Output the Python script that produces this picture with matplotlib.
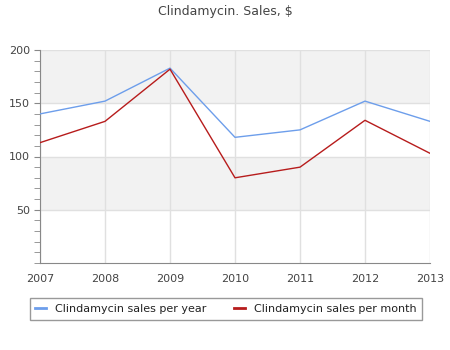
import numpy as np
import matplotlib.pyplot as plt
from matplotlib.ticker import MultipleLocator

years = [2007, 2008, 2009, 2010, 2011, 2012, 2013]
per_year = [140, 152, 183, 118, 125, 152, 133]
per_month = [113, 133, 182, 80, 90, 134, 103]

fig = plt.figure(figsize=(4.5, 3.5), dpi=100)
ax = fig.add_axes([40 / 450, 87 / 350, 390 / 450, 213 / 350])

# alternating background bands
for lo, hi in [(50, 100), (150, 200)]:
    ax.axhspan(lo, hi, color='#f2f2f2', zorder=0, lw=0)

ax.plot(years, per_year, color='#6d9eeb', lw=1, label='Clindamycin sales per year', zorder=3)
ax.plot(years, per_month, color='#b71c1c', lw=1, label='Clindamycin sales per month', zorder=3)

ax.set_xlim(2007, 2013)
ax.set_ylim(0, 200)
ax.set_xticks(years)
ax.set_yticks([50, 100, 150, 200])
ax.yaxis.set_minor_locator(MultipleLocator(10))
ax.grid(True, color='#e0e0e0', lw=1, zorder=1)

for s in ['top', 'right']:
    ax.spines[s].set_visible(False)
for s in ['left', 'bottom']:
    ax.spines[s].set_color('#888888')
ax.tick_params(axis='y', which='both', length=4, color='#888888', labelsize=8, labelcolor='#444444', pad=3)
ax.tick_params(axis='x', length=0, labelsize=8, labelcolor='#444444', pad=8)

fig.text(0.5, 1 - 12 / 350, 'Clindamycin. Sales, $', ha='center', va='center', fontsize=9, color='#444444')

leg = fig.legend(loc='center', bbox_to_anchor=(226 / 450, 1 - 309 / 350), ncol=2, fontsize=8,
                 frameon=True, fancybox=False, handlelength=1.0, columnspacing=2.5,
                 borderpad=0.5, labelcolor='#222222')
leg.get_frame().set_edgecolor('#808080')
leg.get_frame().set_linewidth(1)
for line in leg.get_lines():
    line.set_linewidth(2)

fig.savefig('out.png', dpi=100)
